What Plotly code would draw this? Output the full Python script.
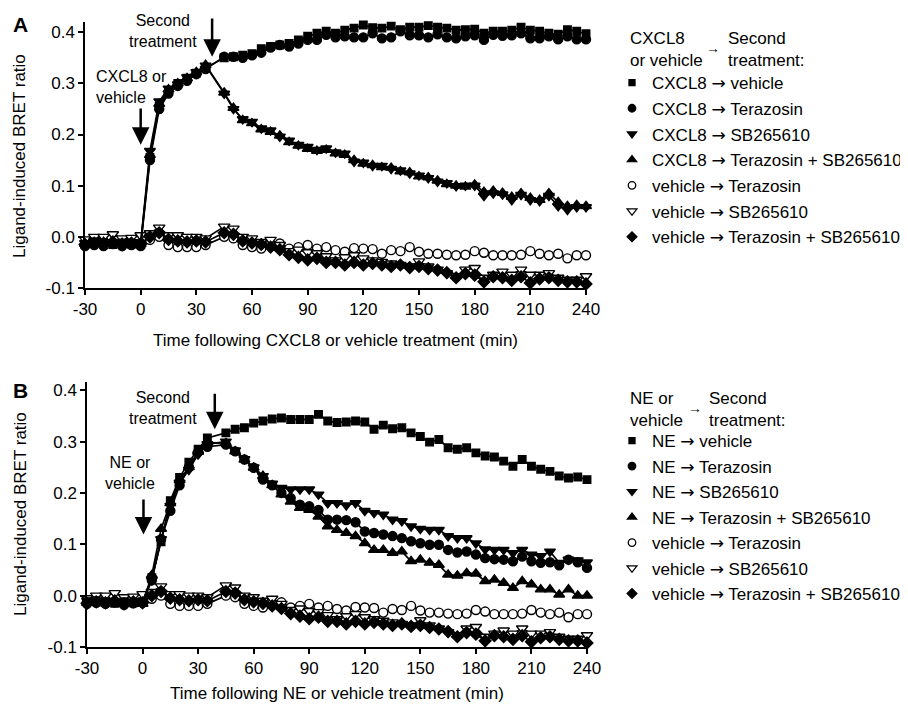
import plotly.graph_objects as go

# ---------------- data ----------------
time_pre = [-30, -25, -20, -15, -10, -5, 0, 5, 10, 15, 20, 25, 30, 35]
time_post = [45, 50, 55, 60, 65, 70, 75, 80, 85, 90, 95, 100, 105, 110, 115, 120, 125, 130, 135, 140,
             145, 150, 155, 160, 165, 170, 175, 180, 185, 190, 195, 200, 205, 210, 215, 220, 225, 230, 235, 240]
times = time_pre + time_post

# Panel A (CXCL8)
a_cxcl8_vehicle = [-0.015, -0.01, -0.012, -0.015, -0.012, -0.014, -0.015, 0.155, 0.255, 0.285, 0.3, 0.31, 0.32, 0.33,
                   0.350, 0.352, 0.355, 0.358, 0.368, 0.372, 0.375, 0.378, 0.385, 0.392,
                   0.398, 0.402, 0.398, 0.404, 0.408, 0.414, 0.409, 0.408, 0.412, 0.405,
                   0.41, 0.41, 0.413, 0.41, 0.408, 0.404, 0.405, 0.406, 0.398, 0.402,
                   0.402, 0.404, 0.41, 0.404, 0.402, 0.398, 0.396, 0.405, 0.402, 0.397]
a_cxcl8_terazosin = [-0.018, -0.016, -0.018, -0.014, -0.018, -0.016, -0.018, 0.15, 0.25, 0.28, 0.295, 0.305, 0.318, 0.328,
                     0.352, 0.352, 0.35, 0.355, 0.36, 0.37, 0.375, 0.372, 0.378, 0.385,
                     0.385, 0.395, 0.39, 0.392, 0.39, 0.39, 0.398, 0.388, 0.39, 0.402,
                     0.394, 0.394, 0.39, 0.396, 0.39, 0.388, 0.392, 0.394, 0.385, 0.395,
                     0.393, 0.394, 0.398, 0.388, 0.388, 0.392, 0.386, 0.392, 0.386, 0.386]
a_cxcl8_sb = [-0.012, -0.008, -0.01, -0.012, -0.01, -0.01, -0.012, 0.168, 0.265, 0.29, 0.298, 0.312, 0.322, 0.335,
              0.28, 0.25, 0.23, 0.225, 0.212, 0.208, 0.196, 0.188, 0.18, 0.176,
              0.17, 0.173, 0.165, 0.163, 0.147, 0.145, 0.139, 0.139, 0.133, 0.13,
              0.124, 0.12, 0.115, 0.108, 0.105, 0.099, 0.1, 0.1, 0.08, 0.085,
              0.083, 0.072, 0.082, 0.072, 0.07, 0.08, 0.06, 0.053, 0.058, 0.058]
a_cxcl8_ter_sb = [-0.014, -0.012, -0.01, -0.013, -0.012, -0.012, -0.014, 0.16, 0.26, 0.288, 0.3, 0.31, 0.322, 0.336,
                  0.282, 0.252, 0.228, 0.222, 0.21, 0.205, 0.198, 0.185, 0.178, 0.172,
                  0.168, 0.17, 0.163, 0.16, 0.15, 0.143, 0.14, 0.136, 0.135, 0.128,
                  0.126, 0.118, 0.116, 0.11, 0.103, 0.1, 0.098, 0.102, 0.088, 0.09,
                  0.086, 0.078, 0.085, 0.076, 0.072, 0.085, 0.068, 0.06, 0.062, 0.06]

# Panel B (NE)
b_ne_vehicle = [-0.012, -0.01, -0.013, -0.015, -0.012, -0.014, -0.012, 0.035, 0.105, 0.185, 0.23, 0.26, 0.285, 0.307,
                0.317, 0.324, 0.327, 0.336, 0.34, 0.344, 0.346, 0.343,
                0.343, 0.343, 0.353, 0.34, 0.337, 0.338, 0.34, 0.338, 0.324, 0.332,
                0.325, 0.327, 0.317, 0.31, 0.299, 0.304, 0.288, 0.285, 0.288, 0.278,
                0.272, 0.27, 0.262, 0.252, 0.265, 0.252, 0.246, 0.242, 0.233, 0.229,
                0.231, 0.226]
b_ne_terazosin = [-0.016, -0.014, -0.016, -0.013, -0.018, -0.015, -0.014, 0.03, 0.11, 0.165, 0.215, 0.25, 0.28, 0.29,
                  0.294, 0.281, 0.265, 0.249, 0.226, 0.215, 0.2, 0.19,
                  0.177, 0.174, 0.167, 0.148, 0.148, 0.147, 0.143, 0.125, 0.122, 0.119,
                  0.116, 0.112, 0.106, 0.102, 0.099, 0.099, 0.089, 0.084, 0.086, 0.08,
                  0.073, 0.071, 0.07, 0.067, 0.076, 0.067, 0.064, 0.065, 0.059, 0.07,
                  0.065, 0.054]
b_ne_sb = [-0.01, -0.012, -0.01, -0.012, -0.014, -0.012, -0.01, 0.03, 0.11, 0.175, 0.22, 0.245, 0.275, 0.295,
           0.300, 0.283, 0.266, 0.250, 0.233, 0.218, 0.21, 0.207,
           0.207, 0.207, 0.197, 0.18, 0.18, 0.176, 0.18, 0.165, 0.161, 0.158,
           0.148, 0.145, 0.135, 0.13, 0.128, 0.128, 0.116, 0.112, 0.112, 0.102,
           0.09, 0.089, 0.089, 0.083, 0.089, 0.08, 0.077, 0.086, 0.064, 0.07,
           0.069, 0.065]
b_ne_ter_sb = [-0.014, -0.012, -0.015, -0.014, -0.016, -0.013, -0.016, 0.04, 0.13, 0.18, 0.225, 0.25, 0.28, 0.298,
               0.297, 0.281, 0.265, 0.249, 0.233, 0.215, 0.197, 0.183,
               0.171, 0.167, 0.154, 0.135, 0.128, 0.122, 0.116, 0.102, 0.089, 0.089,
               0.083, 0.086, 0.067, 0.07, 0.064, 0.06, 0.041, 0.039, 0.044, 0.043,
               0.028, 0.031, 0.025, 0.015, 0.028, 0.022, 0.012, 0.012, 0.002, 0.012,
               0.0, 0.0]

# vehicle controls (same in both panels)
veh_terazosin = [-0.012, -0.01, -0.008, -0.012, -0.01, -0.014, -0.012, -0.006, 0.0, -0.016, -0.02, -0.02, -0.02, -0.016,
                 0.0, -0.003, -0.016, -0.02, -0.023, -0.016, -0.013,
                 -0.023, -0.02, -0.016, -0.023, -0.02, -0.026, -0.029, -0.022, -0.023, -0.024,
                 -0.033, -0.026, -0.028, -0.02, -0.029, -0.033, -0.033, -0.035, -0.036, -0.035,
                 -0.028, -0.031, -0.036, -0.036, -0.036, -0.035, -0.028, -0.033, -0.036, -0.033,
                 -0.042, -0.036, -0.036]
veh_sb = [-0.005, 0.0, 0.0, 0.005, -0.003, -0.002, 0.003, 0.007, 0.018, 0.003, 0.003, 0.0, 0.0, -0.003,
          0.02, 0.016, 0.0, -0.003, -0.01, -0.006, -0.016,
          -0.028, -0.025, -0.03, -0.032, -0.038, -0.046, -0.04, -0.036, -0.042, -0.046,
          -0.049, -0.052, -0.055, -0.058, -0.048, -0.058, -0.064, -0.071, -0.077, -0.064,
          -0.061, -0.08, -0.074, -0.068, -0.074, -0.064, -0.074, -0.074, -0.071, -0.08,
          -0.084, -0.084, -0.077]
veh_ter_sb = [-0.015, -0.012, -0.014, -0.01, -0.016, -0.012, -0.014, 0.0, 0.008, -0.005, -0.008, -0.01, -0.008, -0.01,
              0.008, 0.005, -0.008, -0.012, -0.015, -0.02, -0.025,
              -0.035, -0.04, -0.045, -0.042, -0.05, -0.05, -0.055, -0.05, -0.055, -0.052,
              -0.055, -0.058, -0.055, -0.06, -0.058, -0.062, -0.065, -0.07, -0.08, -0.072,
              -0.075, -0.088, -0.078, -0.08, -0.085, -0.078, -0.09, -0.082, -0.08, -0.085,
              -0.088, -0.088, -0.092]

x_ticks = [-30, 0, 30, 60, 90, 120, 150, 180, 210, 240]
x_tick_labels = ["-30", "0", "30", "60", "90", "120", "150", "180", "210", "240"]
y_ticks = [-0.1, 0.0, 0.1, 0.2, 0.3, 0.4]
y_tick_labels = ["-0.1", "0.0", "0.1", "0.2", "0.3", "0.4"]

ARW = '<span style="font-family:DejaVu Sans">→</span>'
labels_A = [f"CXCL8 {ARW} vehicle", f"CXCL8 {ARW} Terazosin", f"CXCL8 {ARW} SB265610",
            f"CXCL8 {ARW} Terazosin + SB265610", f"vehicle {ARW} Terazosin", f"vehicle {ARW} SB265610",
            f"vehicle {ARW} Terazosin + SB265610"]
labels_B = [f"NE {ARW} vehicle", f"NE {ARW} Terazosin", f"NE {ARW} SB265610",
            f"NE {ARW} Terazosin + SB265610", f"vehicle {ARW} Terazosin", f"vehicle {ARW} SB265610",
            f"vehicle {ARW} Terazosin + SB265610"]

# ---------------- styling ----------------
FONT = "Liberation Sans, Arial, sans-serif"
W, H = 908, 705
OFF = 8  # page body margin offset
def px(x): return (x - OFF) / W
def py(y): return 1 - (y - OFF) / H

styles = [
    dict(symbol="square", size=7.5, color="black"),
    dict(symbol="circle", size=9, color="black"),
    dict(symbol="triangle-down", size=9.5, color="black"),
    dict(symbol="triangle-up", size=9.5, color="black"),
    dict(symbol="circle", size=9, color="white"),
    dict(symbol="triangle-down", size=10, color="white"),
    dict(symbol="diamond", size=9, color="black"),
]

fig = go.Figure()

series_A = [a_cxcl8_vehicle, a_cxcl8_terazosin, a_cxcl8_sb, a_cxcl8_ter_sb, veh_terazosin, veh_sb, veh_ter_sb]
series_B = [b_ne_vehicle, b_ne_terazosin, b_ne_sb, b_ne_ter_sb, veh_terazosin, veh_sb, veh_ter_sb]

for series, labels, xa, ya, leg in [
        (series_A, labels_A, "x", "y", "legend"),
        (series_B, labels_B, "x2", "y2", "legend2")]:
    order = [4, 5, 6, 0, 1, 2, 3]
    for i in order:
        st = styles[i]
        fig.add_trace(go.Scatter(
            x=times, y=series[i], mode="lines+markers", xaxis=xa, yaxis=ya,
            line=dict(color="black", width=1.7),
            marker=dict(symbol=st["symbol"], size=st["size"], color=st["color"],
                        line=dict(color="black", width=1.4)),
            cliponaxis=False, showlegend=False, name=labels[i]))
    for i in range(7):
        st = styles[i]
        fig.add_trace(go.Scatter(
            x=[None], y=[None], mode="markers", xaxis=xa, yaxis=ya, legend=leg,
            legendgroup=f"{leg}{i}",
            marker=dict(symbol=st["symbol"], size=st["size"] - 1.5, color=st["color"],
                        line=dict(color="black", width=1.3)),
            name=labels[i], showlegend=True))

axis_common = dict(showline=True, linecolor="black", linewidth=1.5, ticks="outside", ticklen=5,
                   tickwidth=1.5, tickcolor="black", showgrid=False, zeroline=False,
                   tickfont=dict(family=FONT, size=17, color="black"))

fig.update_layout(
    width=W, height=H, autosize=False,
    margin=dict(l=0, r=0, t=0, b=0, autoexpand=False),
    paper_bgcolor="white", plot_bgcolor="white",
    font=dict(family=FONT, size=17, color="black"),
    xaxis=dict(domain=[px(85), px(586)], range=[-30, 240], anchor="y",
               tickvals=x_ticks, ticktext=x_tick_labels, **axis_common),
    yaxis=dict(domain=[py(288), py(22)], range=[-0.1, 0.42], anchor="x",
               tickvals=y_ticks, ticktext=y_tick_labels, **axis_common),
    xaxis2=dict(domain=[px(87), px(587)], range=[-30, 240], anchor="y2",
                tickvals=x_ticks, ticktext=x_tick_labels, **axis_common),
    yaxis2=dict(domain=[py(647), py(382)], range=[-0.1, 0.416], anchor="x2",
                tickvals=y_ticks, ticktext=y_tick_labels, **axis_common),
    legend=dict(x=px(612), y=py(65), xanchor="left", yanchor="top", bgcolor="rgba(0,0,0,0)",
                font=dict(family=FONT, size=17, color="black"), tracegroupgap=0.6,
                itemsizing="trace"),
    legend2=dict(x=px(612), y=py(423), xanchor="left", yanchor="top", bgcolor="rgba(0,0,0,0)",
                 font=dict(family=FONT, size=17, color="black"), tracegroupgap=0.4,
                 itemsizing="trace"),
)

def txt(text, x, y, xanchor="center", align="center", size=17, bold=False, angle=0):
    fig.add_annotation(text=f"<b>{text}</b>" if bold else text, x=px(x), y=py(y), xref="paper", yref="paper",
                       xanchor=xanchor, yanchor="middle", align=align, showarrow=False, textangle=angle,
                       font=dict(family=FONT, size=size, color="black"))

# panel letters
txt("A", 20, 24, size=21, bold=True)
txt("B", 20, 390, size=21, bold=True)
# axis titles
txt("Ligand-induced BRET ratio", 20, 156, angle=-90)
txt("Ligand-induced BRET ratio", 20, 514, angle=-90)
txt("Time following CXCL8 or vehicle treatment (min)", 335, 340)
txt("Time following NE or vehicle treatment (min)", 337, 693)
# in-plot labels
txt("Second<br>treatment", 163, 31, size=16)
txt("CXCL8 or<br>vehicle", 94, 87, xanchor="left", align="left", size=16)
txt("Second<br>treatment", 163, 408, size=16)
txt("NE or<br>vehicle", 130, 473, size=16)
# legend headers
txt("CXCL8<br>or vehicle", 628, 50, xanchor="left", align="left")
txt("→", 713, 48, size=14)
txt("Second<br>treatment:", 726, 50, xanchor="left", align="left")
txt("NE or<br>vehicle", 628, 409, xanchor="left", align="left")
txt("→", 695, 408, size=14)
txt("Second<br>treatment:", 707, 409, xanchor="left", align="left")

# treatment arrows (data coordinates)
arrow_specs = [("x", "y", 0, 0.254, 0.18), ("x", "y", 38.5, 0.43, 0.352),
               ("x2", "y2", 0.5, 0.19, 0.119), ("x2", "y2", 39, 0.396, 0.324)]
for xr, yr, t, y0, y1 in arrow_specs:
    fig.add_annotation(x=t, y=y1, ax=t, ay=y0, xref=xr, yref=yr, axref=xr, ayref=yr,
                       text="", showarrow=True, arrowhead=2, arrowsize=1.4, arrowwidth=2.5,
                       arrowcolor="black")

fig.write_html("out.html")
